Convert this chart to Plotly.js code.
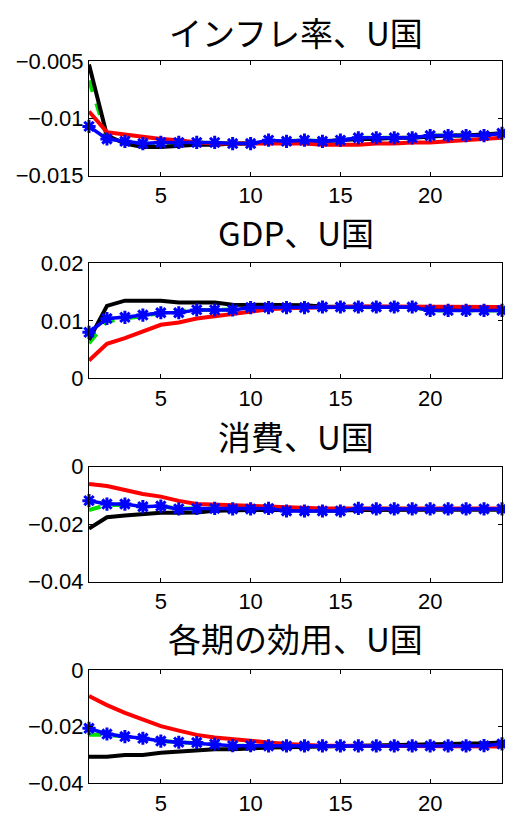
<!DOCTYPE html>
<html>
<head>
<meta charset="utf-8">
<script src="https://cdn.plot.ly/plotly-3.0.1.min.js"></script>
<style>html,body{margin:0;padding:0;background:#fff;}#chart{width:505px;height:819px;}</style>
</head>
<body>
<div id="chart"></div>
<script>
const periods = [1,2,3,4,5,6,7,8,9,10,11,12,13,14,15,16,17,18,19,20,21,22,23,24];
const titles = ["インフレ率、U国", "GDP、U国", "消費、U国", "各期の効用、U国"];

const xTickVals = [5, 10, 15, 20];
const xTickText = ["5", "10", "15", "20"];

const inflTickVals = [-0.015, -0.01, -0.005];
const inflTickText = ["−0.015", "−0.01", "−0.005"];
const gdpTickVals = [0, 0.01, 0.02];
const gdpTickText = ["0", "0.01", "0.02"];
const consTickVals = [-0.04, -0.02, 0];
const consTickText = ["−0.04", "−0.02", "0"];
const utilTickVals = [-0.04, -0.02, 0];
const utilTickText = ["−0.04", "−0.02", "0"];

const inflRange = [-0.015, -0.005];
const gdpRange = [0, 0.02];
const consRange = [-0.04, 0];
const utilRange = [-0.04, 0];

const inflBlack = [-0.0053,-0.0115,-0.0122,-0.0125,-0.0125,-0.0124,-0.0123,-0.0123,-0.0122,-0.0122,-0.0121,-0.0120,-0.0120,-0.0120,-0.0119,-0.0118,-0.0118,-0.0117,-0.0117,-0.0116,-0.0115,-0.0115,-0.0114,-0.0113];
const inflGreen = [-0.0067,-0.0116,-0.0121,-0.0123,-0.0122,-0.0121,-0.0121,-0.0121,-0.0122,-0.0122,-0.0120,-0.0120,-0.0119,-0.0120,-0.0119,-0.0117,-0.0117,-0.0117,-0.0117,-0.0115,-0.0115,-0.0115,-0.0115,-0.0113];
const inflRed = [-0.0094,-0.0112,-0.0114,-0.0116,-0.0118,-0.0119,-0.0121,-0.0122,-0.0122,-0.0122,-0.0122,-0.0122,-0.0122,-0.0123,-0.0123,-0.0123,-0.0122,-0.0122,-0.0121,-0.0121,-0.0120,-0.0119,-0.0118,-0.0117];
const inflBlue = [-0.0107,-0.0118,-0.0120,-0.0122,-0.0121,-0.0121,-0.0121,-0.0121,-0.0122,-0.0122,-0.0119,-0.0120,-0.0119,-0.0120,-0.0119,-0.0117,-0.0117,-0.0117,-0.0117,-0.0115,-0.0115,-0.0115,-0.0115,-0.0113];

const gdpBlack = [0.0067,0.0126,0.0135,0.0135,0.0135,0.0132,0.0132,0.0132,0.0128,0.0128,0.0128,0.0128,0.0127,0.0125,0.0125,0.0125,0.0125,0.0125,0.0124,0.0122,0.0121,0.0121,0.0121,0.0120];
const gdpGreen = [0.0061,0.0099,0.0104,0.0108,0.0114,0.0116,0.0119,0.0119,0.0120,0.0123,0.0123,0.0123,0.0123,0.0124,0.0124,0.0124,0.0124,0.0124,0.0124,0.0118,0.0118,0.0118,0.0118,0.0118];
const gdpRed = [0.0031,0.0060,0.0070,0.0081,0.0093,0.0097,0.0104,0.0108,0.0112,0.0116,0.0120,0.0122,0.0123,0.0124,0.0125,0.0125,0.0125,0.0125,0.0125,0.0125,0.0125,0.0125,0.0125,0.0124];
const gdpBlue = [0.0080,0.0104,0.0106,0.0110,0.0114,0.0114,0.0119,0.0119,0.0119,0.0123,0.0123,0.0123,0.0123,0.0124,0.0124,0.0124,0.0124,0.0124,0.0124,0.0118,0.0118,0.0118,0.0118,0.0118];

const consBlack = [-0.0215,-0.0176,-0.0170,-0.0165,-0.0160,-0.0160,-0.0159,-0.0153,-0.0151,-0.0151,-0.0151,-0.0152,-0.0152,-0.0152,-0.0152,-0.0151,-0.0150,-0.0150,-0.0150,-0.0150,-0.0150,-0.0150,-0.0150,-0.0150];
const consGreen = [-0.0151,-0.0133,-0.0133,-0.0138,-0.0137,-0.0146,-0.0145,-0.0145,-0.0147,-0.0147,-0.0145,-0.0153,-0.0153,-0.0153,-0.0153,-0.0146,-0.0147,-0.0147,-0.0147,-0.0147,-0.0147,-0.0147,-0.0147,-0.0147];
const consRed = [-0.0060,-0.0067,-0.0081,-0.0095,-0.0104,-0.0119,-0.0130,-0.0132,-0.0137,-0.0139,-0.0141,-0.0143,-0.0144,-0.0145,-0.0145,-0.0145,-0.0145,-0.0145,-0.0145,-0.0145,-0.0145,-0.0145,-0.0145,-0.0145];
const consBlue = [-0.0118,-0.0130,-0.0130,-0.0139,-0.0137,-0.0147,-0.0145,-0.0145,-0.0147,-0.0147,-0.0145,-0.0154,-0.0154,-0.0154,-0.0154,-0.0145,-0.0147,-0.0147,-0.0147,-0.0147,-0.0147,-0.0147,-0.0147,-0.0147];

const utilBlack = [-0.0306,-0.0306,-0.0300,-0.0300,-0.0292,-0.0288,-0.0282,-0.0280,-0.0280,-0.0276,-0.0274,-0.0273,-0.0272,-0.0271,-0.0270,-0.0269,-0.0268,-0.0267,-0.0266,-0.0265,-0.0264,-0.0262,-0.0259,-0.0256];
const utilGreen = [-0.0229,-0.0229,-0.0235,-0.0241,-0.0251,-0.0255,-0.0257,-0.0263,-0.0267,-0.0267,-0.0268,-0.0268,-0.0268,-0.0268,-0.0268,-0.0268,-0.0268,-0.0268,-0.0268,-0.0268,-0.0268,-0.0268,-0.0267,-0.0261];
const utilRed = [-0.0092,-0.0124,-0.0151,-0.0174,-0.0198,-0.0214,-0.0229,-0.0238,-0.0245,-0.0251,-0.0256,-0.0261,-0.0265,-0.0267,-0.0267,-0.0267,-0.0267,-0.0267,-0.0267,-0.0267,-0.0268,-0.0268,-0.0269,-0.0270];
const utilBlue = [-0.0206,-0.0226,-0.0235,-0.0241,-0.0251,-0.0255,-0.0256,-0.0262,-0.0267,-0.0267,-0.0268,-0.0268,-0.0268,-0.0268,-0.0268,-0.0268,-0.0268,-0.0268,-0.0268,-0.0268,-0.0268,-0.0268,-0.0267,-0.0261];

const panels = [
  {title: titles[0], series: [inflGreen, inflBlack, inflRed, inflBlue], range: inflRange, tv: inflTickVals, tt: inflTickText},
  {title: titles[1], series: [gdpGreen, gdpBlack, gdpRed, gdpBlue], range: gdpRange, tv: gdpTickVals, tt: gdpTickText},
  {title: titles[2], series: [consGreen, consBlack, consRed, consBlue], range: consRange, tv: consTickVals, tt: consTickText},
  {title: titles[3], series: [utilGreen, utilBlack, utilRed, utilBlue], range: utilRange, tv: utilTickVals, tt: utilTickText}
];

const W = 505, H = 819;
const xDom = [89 / W, 502 / W];
const boxes = [[61, 175.7], [263.3, 378.3], [466.7, 581.7], [670, 783.3]];
const titleY = [32, 232, 436, 638];

const styles = [
  {color: '#00e000', width: 4, dash: 'dash'},
  {color: '#000000', width: 4, dash: 'solid'},
  {color: '#ff0000', width: 4, dash: 'solid'},
  {color: '#0000ff', width: 3.5, dash: 'solid'}
];

const data = [];
const layout = {
  width: W, height: H,
  margin: {l: 0, r: 0, t: 0, b: 0},
  paper_bgcolor: '#fff', plot_bgcolor: '#fff',
  showlegend: false,
  annotations: []
};

panels.forEach((p, i) => {
  const n = i + 1;
  const xa = n === 1 ? 'x' : 'x' + n;
  const ya = n === 1 ? 'y' : 'y' + n;
  p.series.forEach((s, k) => {
    const st = styles[k];
    const tr = {
      x: periods, y: s, xaxis: xa, yaxis: ya, type: 'scatter',
      mode: k === 3 ? 'lines+markers' : 'lines',
      line: {color: st.color, width: st.width, dash: st.dash},
      hoverinfo: 'skip', cliponaxis: false
    };
    if (k === 3) {
      tr.marker = {symbol: 'asterisk-open', size: 11, color: '#0000ff', line: {color: '#0000ff', width: 3}};
    }
    data.push(tr);
  });
  const b = boxes[i];
  const axCommon = {
    showline: true, linecolor: '#000', linewidth: 1, mirror: 'ticks',
    ticks: 'inside', ticklen: 4, tickcolor: '#000', tickwidth: 1,
    showgrid: false, zeroline: false, automargin: false,
    tickfont: {family: 'Liberation Sans, Arial, sans-serif', size: 22, color: '#000'},
    fixedrange: true
  };
  layout[n === 1 ? 'xaxis' : 'xaxis' + n] = Object.assign({}, axCommon, {
    domain: xDom, range: [1, 24], anchor: ya,
    tickmode: 'array', tickvals: xTickVals, ticktext: xTickText
  });
  layout[n === 1 ? 'yaxis' : 'yaxis' + n] = Object.assign({}, axCommon, {
    domain: [1 - b[1] / H, 1 - b[0] / H], range: p.range, anchor: xa,
    tickmode: 'array', tickvals: p.tv, ticktext: p.tt
  });
  layout.annotations.push({
    text: p.title, xref: 'paper', yref: 'paper',
    x: (xDom[0] + xDom[1]) / 2, y: 1 - titleY[i] / H,
    xanchor: 'center', yanchor: 'middle', showarrow: false,
    font: {family: 'Noto Sans CJK JP, sans-serif', size: 33, color: '#000'}
  });
});

Plotly.newPlot('chart', data, layout, {staticPlot: true, displayModeBar: false});
</script>
</body>
</html>
